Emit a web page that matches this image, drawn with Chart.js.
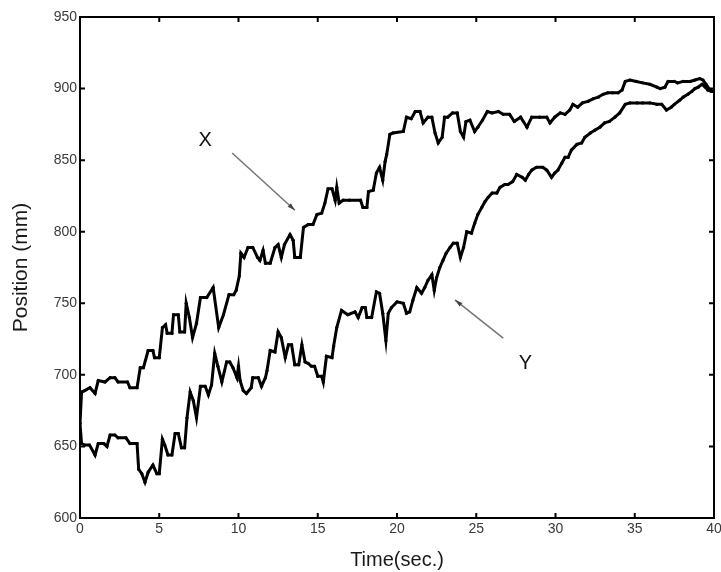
<!DOCTYPE html>
<html>
<head>
<meta charset="utf-8">
<script src="https://cdn.jsdelivr.net/npm/chart.js@4/dist/chart.umd.min.js"></script>
<style>
html,body{margin:0;padding:0;background:#fff;}
#wrap{width:721px;height:572px;position:relative;}
</style>
</head>
<body>
<div id="wrap"><canvas id="c"></canvas></div>
<script>
// X position trace: time (s) and position (mm)
const xTime = [0,0.1,0.3,0.63,0.95,1.15,1.58,1.9,2.2,2.4,3.0,3.15,3.6,3.8,4.0,4.3,4.6,4.7,5.0,5.2,5.4,5.5,5.8,5.9,6.2,6.3,6.6,6.7,6.9,7.1,7.35,7.6,8.0,8.4,8.75,9.05,9.4,9.7,9.85,10.05,10.15,10.35,10.6,10.9,11.2,11.35,11.55,11.7,12.0,12.3,12.5,12.7,12.9,13.25,13.45,13.55,13.9,14.1,14.4,14.7,14.95,15.25,15.45,15.65,15.9,16.1,16.2,16.35,16.6,17.0,17.7,17.85,18.1,18.2,18.5,18.7,18.9,19.1,19.25,19.35,19.55,19.75,20.4,20.6,20.9,21.15,21.45,21.65,21.95,22.2,22.4,22.6,22.85,23.0,23.2,23.5,23.8,24.0,24.2,24.35,24.6,24.9,25.1,25.4,25.7,26.0,26.4,26.7,27.1,27.4,27.8,28.2,28.5,29.0,29.45,29.65,29.95,30.3,30.6,30.9,31.1,31.4,31.7,32.05,32.4,32.7,33.0,33.3,33.6,33.95,34.2,34.4,34.7,35.1,35.5,35.95,36.4,36.6,36.9,37.1,37.5,37.7,38.05,38.5,38.8,39.1,39.3,39.5,39.75,40];
const xPos = [666,688,689,691,687,696,695,698,698,695,695,691,691,705,705,717,717,712,712,733,735,729,729,742,742,730,730,750,740,726,736,754,754,761,733,742,756,756,759,769,785,782,789,789,782,780,787,778,778,789,791,782,791,798,794,782,782,803,805,805,812,813,820,830,830,822,831,820,822,822,822,817,817,828,829,841,845,836,849,854,868,869,870,880,879,884,884,876,880,880,869,862,866,880,880,883,883,870,866,877,878,870,873,878,884,883,884,882,882,877,880,873,880,880,880,876,880,883,882,885,889,887,890,891,893,894,896,897,897,897,899,905,906,905,904,903,901,900,901,905,905,904,905,905,906,907,906,903,899,898];

// Y position trace: time (s) and position (mm)
const yTime = [0,0.1,0.3,0.6,0.95,1.15,1.5,1.7,1.9,2.2,2.4,2.9,3.15,3.6,3.7,3.9,4.1,4.3,4.6,4.85,5.0,5.2,5.35,5.55,5.8,6.0,6.2,6.4,6.6,6.75,6.95,7.15,7.35,7.6,7.9,8.1,8.3,8.5,8.7,8.95,9.25,9.45,9.65,9.9,10.0,10.1,10.3,10.5,10.8,10.9,11.25,11.45,11.7,11.8,12.0,12.3,12.5,12.7,12.95,13.15,13.35,13.55,13.8,14.0,14.2,14.4,14.6,14.8,15.0,15.25,15.35,15.55,15.9,16.0,16.2,16.5,16.9,17.35,17.55,17.8,18.0,18.1,18.4,18.7,18.9,19.1,19.3,19.45,19.65,20.0,20.4,20.6,20.8,21.0,21.25,21.55,21.75,21.95,22.2,22.35,22.5,22.7,22.9,23.1,23.35,23.55,23.8,24.0,24.2,24.4,24.7,24.9,25.1,25.35,25.55,25.75,26.0,26.3,26.5,26.8,27.0,27.3,27.55,27.9,28.1,28.3,28.5,28.8,29.2,29.45,29.75,29.95,30.15,30.4,30.6,30.8,31.0,31.35,31.65,31.85,32.2,32.5,32.8,33.1,33.4,33.75,34.05,34.4,34.7,35.15,35.5,35.95,36.4,36.7,37.0,37.3,37.5,37.85,38.05,38.35,38.6,38.8,39.0,39.25,39.45,39.6,39.85,40];
const yPos = [666,652,651,651,644,652,652,650,658,658,656,656,652,652,634,631,625,632,637,631,631,655,651,644,644,659,659,649,649,670,688,682,670,692,692,686,693,715,706,695,709,709,705,698,706,696,689,687,691,698,698,692,698,703,717,716,730,726,712,721,721,707,707,721,709,708,706,706,699,699,695,713,712,720,733,745,742,744,740,747,747,740,740,758,757,743,724,743,747,751,750,743,744,752,761,757,761,766,770,759,768,775,780,785,789,792,792,782,789,800,799,806,812,817,821,824,827,827,831,833,833,835,840,838,836,840,843,845,845,843,838,841,843,848,852,852,857,861,862,866,869,871,873,876,877,880,883,889,890,890,890,890,889,889,885,887,889,892,894,896,898,900,901,903,901,899,898,898];

const xTicks = [0,5,10,15,20,25,30,35,40];
const yTicks = [600,650,700,750,800,850,900,950];
const seriesNames = ['X','Y'];

const xData = xTime.map((t,i)=>({x:t,y:xPos[i]}));
const yData = yTime.map((t,i)=>({x:t,y:yPos[i]}));

const FONT = '"Liberation Sans", Arial, sans-serif';

const framePlugin = {
  id:'frame',
  afterDatasetsDraw(chart){
    const {ctx, chartArea:a, scales:{x,y}} = chart;
    ctx.save();
    ctx.strokeStyle = '#000';
    ctx.lineWidth = 2;
    ctx.strokeRect(a.left, a.top, a.right-a.left, a.bottom-a.top);
    const L = 5;
    ctx.beginPath();
    xTicks.forEach(v=>{
      const px = x.getPixelForValue(v);
      ctx.moveTo(px,a.bottom); ctx.lineTo(px,a.bottom-L);
      ctx.moveTo(px,a.top); ctx.lineTo(px,a.top+L);
    });
    yTicks.forEach(v=>{
      const py = y.getPixelForValue(v);
      ctx.moveTo(a.left,py); ctx.lineTo(a.left+L,py);
      ctx.moveTo(a.right,py); ctx.lineTo(a.right-L,py);
    });
    ctx.stroke();

    function arrow(x1,y1,x2,y2){
      const X1=x.getPixelForValue(x1),Y1=y.getPixelForValue(y1);
      const X2=x.getPixelForValue(x2),Y2=y.getPixelForValue(y2);
      ctx.strokeStyle='#777';ctx.fillStyle='#444';ctx.lineWidth=1.6;
      ctx.beginPath();ctx.moveTo(X1,Y1);ctx.lineTo(X2,Y2);ctx.stroke();
      const ang=Math.atan2(Y2-Y1,X2-X1);const h=8;
      ctx.beginPath();ctx.moveTo(X2,Y2);
      ctx.lineTo(X2-h*Math.cos(ang-0.3),Y2-h*Math.sin(ang-0.3));
      ctx.lineTo(X2-h*Math.cos(ang+0.3),Y2-h*Math.sin(ang+0.3));
      ctx.closePath();ctx.fill();
    }
    arrow(9.6,855,13.56,815);
    arrow(26.7,725.7,23.66,752.3);
    ctx.fillStyle='#111';
    ctx.font = '20px '+FONT;
    ctx.textAlign='center';ctx.textBaseline='middle';
    ctx.fillText(seriesNames[0], x.getPixelForValue(7.9), y.getPixelForValue(864));
    ctx.fillText(seriesNames[1], x.getPixelForValue(28.1), y.getPixelForValue(708));
    ctx.restore();
  }
};

new Chart(document.getElementById('c'), {
  type:'line',
  data:{datasets:[
    {label:seriesNames[0], data:xData, borderColor:'#000', backgroundColor:'#000', borderWidth:3, pointRadius:1.6, pointBorderWidth:0, tension:0},
    {label:seriesNames[1], data:yData, borderColor:'#000', backgroundColor:'#000', borderWidth:3, pointRadius:1.6, pointBorderWidth:0, tension:0}
  ]},
  options:{
    responsive:true, maintainAspectRatio:false, animation:false,
    layout:{padding:{left:0,right:7,top:17,bottom:0}},
    plugins:{legend:{display:false}, tooltip:{enabled:false}},
    scales:{
      x:{type:'linear', min:0, max:40,
        afterBuildTicks(s){s.ticks = xTicks.map(v=>({value:v}));},
        afterFit(s){s.height = 54; s.paddingLeft = 0; s.paddingRight = 0;},
        grid:{display:false, drawTicks:false}, border:{display:false},
        ticks:{color:'#3a3a3a', font:{family:FONT,size:14}, padding:3, maxRotation:0, autoSkip:false},
        title:{display:true, text:'Time(sec.)', color:'#1a1a1a', font:{family:FONT,size:20}, padding:{top:0,bottom:0}}
      },
      y:{type:'linear', min:600, max:950,
        afterBuildTicks(s){s.ticks = yTicks.map(v=>({value:v}));},
        afterFit(s){s.width = 80;},
        grid:{display:false, drawTicks:false}, border:{display:false},
        ticks:{color:'#3a3a3a', font:{family:FONT,size:14}, padding:3, autoSkip:false},
        title:{display:true, text:'Position (mm)', color:'#1a1a1a', font:{family:FONT,size:21}, padding:{top:9,bottom:0}}
      }
    }
  },
  plugins:[framePlugin]
});
</script>
</body>
</html>
